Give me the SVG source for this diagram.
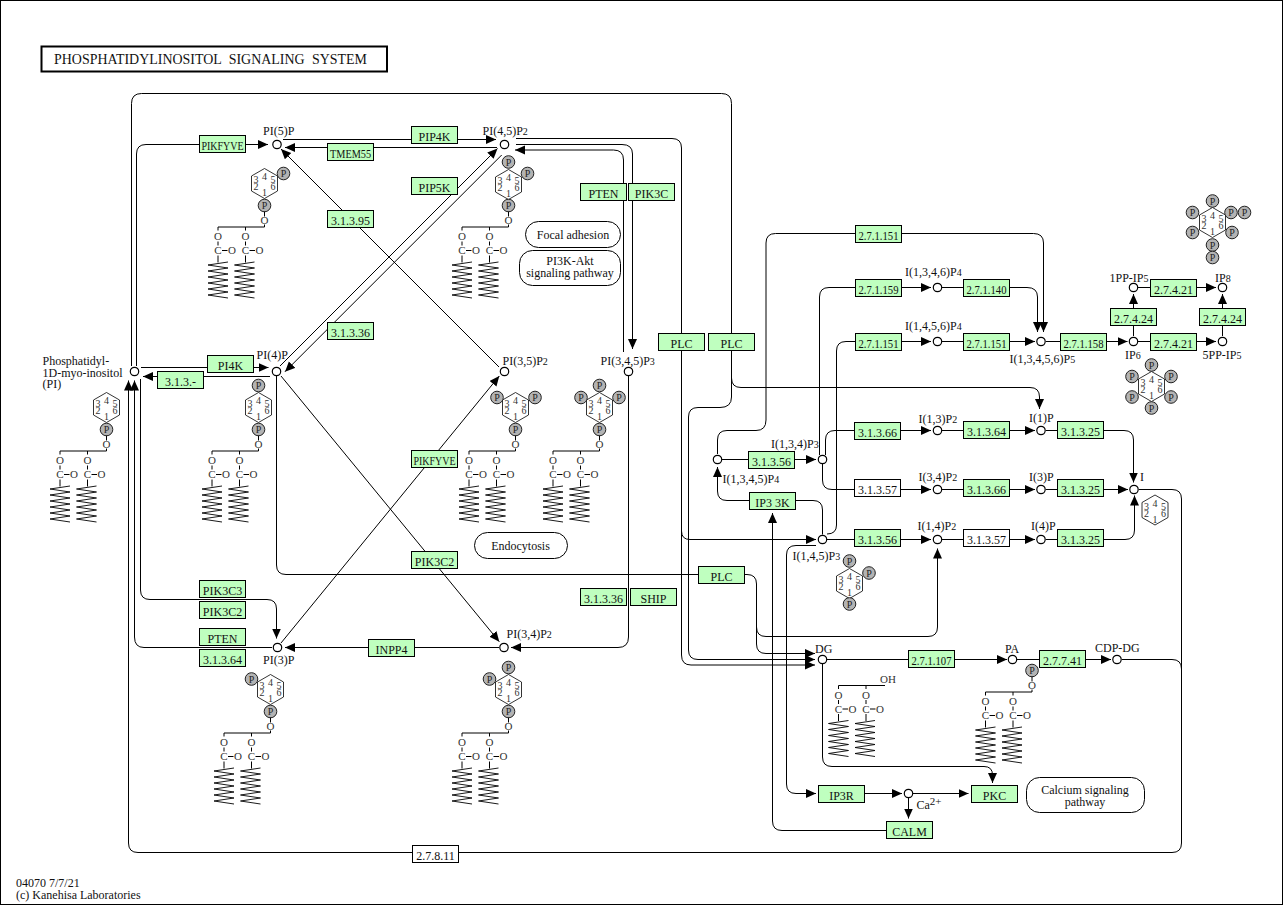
<svg xmlns="http://www.w3.org/2000/svg" width="1283" height="905" viewBox="0 0 1283 905">
<style>
text{font-family:"Liberation Serif","Times New Roman",serif;font-size:12px;fill:#111}
.e rect{fill:#bfffbf;stroke:#000;stroke-width:1}
.w rect{fill:#fff;stroke:#000;stroke-width:1}
.e text,.w text,.m text{text-anchor:middle}
.m rect{fill:#fff;stroke:#000;stroke-width:1}
.n circle{fill:#fff;stroke:#000;stroke-width:1.2}
#connectors path{fill:none;stroke:#000;stroke-width:1}
.h{marker-end:url(#a)}
.s{font-size:10px}
.d text{font-size:11px;text-anchor:middle;fill:#333}
.d path{fill:none;stroke:#000;stroke-width:1}
#zig{fill:none;stroke:#000;stroke-width:.9}
.hx polygon{fill:#fff;stroke:#000;stroke-width:.8}
.hx text{font-size:10px;text-anchor:middle;fill:#333}
.pp circle{fill:#b3b3b3;stroke:#222;stroke-width:1}
.pp text{font-size:10px;text-anchor:middle;fill:#222}
</style>
<defs>
<marker id="a" markerUnits="userSpaceOnUse" markerWidth="11" markerHeight="10" refX="10" refY="4.5" orient="auto"><path d="M0 0L10 4.5L0 9z" fill="#000"/></marker>
<polyline id="zig" points="10,0 -10,3 10,6 -10,9 10,12 -10,15 10,18 -10,21 10,24 -10,27 10,30 -10,33 10,36"/>
<g id="hex" class="hx"><polygon points="0,-15 13,-7.5 13,7.5 0,15 -13,7.5 -13,-7.5"/><text x="0" y="-3.5">4</text><text x="8.5" y="-0.5">5</text><text x="8.5" y="6.5">6</text><text x="0" y="12.5">1</text><text x="-8.5" y="6.5">2</text><text x="-8.5" y="-0.5">3</text></g>
<g id="P" class="pp"><circle r="6.3"/><text y="3.5">P</text></g>
<g id="tail" class="d"><path d="M0 6.5H-46.5V10M-19 6.5V10M-46.5 21V25M-19 21V25M-42.5 30H-37M-15 30H-9.5M-46.5 35V42M-19 35V42"/><text x="-46.5" y="19.5">O</text><text x="-19" y="19.5">O</text><text x="-46.5" y="33.5">C</text><text x="-19" y="33.5">C</text><text x="-32.5" y="33.5">O</text><text x="-5" y="33.5">O</text><use href="#zig" x="-46.5" y="41.5"/><use href="#zig" x="-20" y="41.5"/></g>
<g id="tailO" class="d"><use href="#tail"/><path d="M0 4V6.5M0 -4V-9"/><text y="3.5">O</text></g>
</defs>
<rect x="0.5" y="0.5" width="1282" height="904" fill="#fff" stroke="#000"/>
<rect x="41.5" y="46.5" width="345.5" height="25" fill="#fff" stroke="#000" stroke-width="2"/>
<text x="54" y="64" style="font-size:14px" textLength="313" lengthAdjust="spacingAndGlyphs" word-spacing="4">PHOSPHATIDYLINOSITOL SIGNALING SYSTEM</text>
<text x="16" y="887" style="font-size:12px">04070 7/7/21</text>
<text x="16" y="899" style="font-size:12px">(c) Kanehisa Laboratories</text>

<g id="connectors">
<path class="h" d="M131.5 366V103.5Q131.5 93.5 141.5 93.5H721.5Q731.5 93.5 731.5 103.5V378Q731.5 387.5 741 387.5H1030Q1039.5 387.5 1039.5 397V409"/>
<path class="h" d="M731.5 350V397Q731.5 407.5 720 407.5H698Q688.5 407.5 688.5 417V650Q688.5 659.5 698 659.5H815"/>
<path class="h" d="M516 138.5H672Q681.5 138.5 681.5 148V655Q681.5 665 691 665H815"/>
<path class="h" d="M681.5 531Q681.5 539.5 690 539.5H816"/>
<path class="h" d="M516 144.5H622Q632.5 144.5 632.5 154V349"/>
<path class="h" d="M623.5 352V160Q623.5 150 613.5 150H515"/>
<path class="h" d="M628.5 376V637Q628.5 647.5 618 647.5H511"/>
<path class="h" d="M499 647.5H285"/>
<path class="h" d="M272 647.5H144Q134.5 647.5 134.5 637V380.5"/>
<path class="h" d="M1139 489.5H1172Q1181.5 489.5 1181.5 499V843Q1181.5 852.5 1172 852.5H138Q128.5 852.5 128.5 843V380.5"/>
<path d="M1122 659.5H1172Q1181.5 659.5 1181.5 669"/>
<path class="h" d="M140.5 379V590Q140.5 599.5 150 599.5H267Q276.5 599.5 276.5 609V638.5"/>
<path class="h" d="M136.5 366V154Q136.5 144.5 146 144.5H268"/>
<path class="h" d="M141 367.5H268.5"/>
<path class="h" d="M270 376.5H143"/>
<path d="M276.5 376V565Q276.5 574.5 286 574.5H698"/>
<path class="h" d="M745 574.5H747Q756.5 574.5 756.5 584V644Q756.5 653.5 766 653.5H815"/>
<path class="h" d="M756.5 627Q756.5 636.5 766 636.5H928Q937.5 636.5 937.5 627V548.5"/>
<path class="h" d="M283 139.5H496"/>
<path class="h" d="M497 147.5H285"/>
<path class="h" d="M499 367L281 149"/>
<path class="h" d="M280 366L497.5 148.5"/>
<path class="h" d="M501.7 155L285 371.7"/>
<path class="h" d="M281 643L499.3 376"/>
<path class="h" d="M281 376L499.3 641.7"/>
<path class="h" d="M827 659.5H1007"/>
<path class="h" d="M1017 659.5H1111"/>
<path class="h" d="M822.5 664V757Q822.5 766.5 832 766.5H984Q992.5 766.5 992.5 775V783"/>
<path class="h" d="M864.5 793.5H902"/>
<path class="h" d="M913 793.5H968.5"/>
<path class="h" d="M908.5 798V818.5"/>
<path class="h" d="M886 830.5H782Q772.5 830.5 772.5 821V513"/>
<path class="h" d="M816 545.5H796Q786.5 545.5 786.5 555V784Q786.5 793.5 796 793.5H816"/>
<path class="h" d="M722 459.5H816"/>
<path class="h" d="M717.5 454V440Q717.5 430.5 727 430.5H756Q766 430.5 766 420V243Q766 233.5 775.5 233.5H1033.5Q1043.5 233.5 1043.5 243V332"/>
<path class="h" d="M749.5 500.5H727Q717.5 500.5 717.5 491V467"/>
<path d="M795.5 500.5H813Q822.5 500.5 822.5 510V534.5"/>
<path class="h" d="M825.5 455V440Q825.5 430.5 835 430.5H931"/>
<path class="h" d="M822.5 464V480Q822.5 489.5 832 489.5H931"/>
<path class="h" d="M819.5 455V297Q819.5 287.5 829 287.5H931"/>
<path class="h" d="M827 539.5H931"/>
<path class="h" d="M827 534Q836.5 534 836.5 525V351Q836.5 341.5 846 341.5H931"/>
<path class="h" d="M942 430.5H1035"/>
<path class="h" d="M942 489.5H1035"/>
<path class="h" d="M942 539.5H1035"/>
<path class="h" d="M1046 430.5H1124Q1133.5 430.5 1133.5 440V482.5"/>
<path class="h" d="M1046 489.5H1128"/>
<path class="h" d="M1046 539.5H1125Q1134.5 539.5 1134.5 530V495.5"/>
<path class="h" d="M942 287.5H1027Q1037.5 287.5 1037.5 297V332"/>
<path class="h" d="M942 341.5H1035"/>
<path class="h" d="M1046 341.5H1127.5"/>
<path class="h" d="M1133.5 336V294"/>
<path class="h" d="M1222.5 336V294"/>
<path class="h" d="M1138 287.5H1216"/>
<path class="h" d="M1138 341.5H1216"/>
</g>

<g id="n-PI" class="n"><circle cx="134.5" cy="371.5" r="4.2"/><text x="42.5" y="365">Phosphatidyl-</text><text x="42.5" y="376.5">1D-myo-inositol</text><text x="42.5" y="388">(PI)</text></g>
<g id="n-PI4P" class="n"><circle cx="276.5" cy="371.5" r="4.2"/><text x="256.5" y="359">PI(4)P</text></g>
<g id="n-PI5P" class="n"><circle cx="277" cy="144.5" r="4.2"/><text x="263" y="135">PI(5)P</text></g>
<g id="n-PI45P2" class="n"><circle cx="504.5" cy="144.5" r="4.2"/><text x="482.5" y="134.5">PI(4,5)P<tspan class="s">2</tspan></text></g>
<g id="n-PI35P2" class="n"><circle cx="504.5" cy="371.5" r="4.2"/><text x="502.5" y="365">PI(3,5)P<tspan class="s">2</tspan></text></g>
<g id="n-PI345P3" class="n"><circle cx="628.5" cy="371.5" r="4.2"/><text x="600.5" y="365">PI(3,4,5)P<tspan class="s">3</tspan></text></g>
<g id="n-PI3P" class="n"><circle cx="277.5" cy="647.5" r="4.2"/><text x="263" y="664">PI(3)P</text></g>
<g id="n-PI34P2" class="n"><circle cx="504" cy="647.5" r="4.2"/><text x="506.5" y="638">PI(3,4)P<tspan class="s">2</tspan></text></g>
<g id="n-I13452" class="n"><circle cx="717.5" cy="459.5" r="4.2"/><text x="722.5" y="482.5">I(1,3,4,5)P<tspan class="s">4</tspan></text></g>
<g id="n-I134" class="n"><circle cx="822.5" cy="459.5" r="4.2"/><text x="771" y="447.5">I(1,3,4)P<tspan class="s">3</tspan></text></g>
<g id="n-I145" class="n"><circle cx="822.5" cy="539.5" r="4.2"/><text x="792.5" y="560">I(1,4,5)P<tspan class="s">3</tspan></text></g>
<g id="n-I13" class="n"><circle cx="937.5" cy="430.5" r="4.2"/><text x="918.5" y="422.5">I(1,3)P<tspan class="s">2</tspan></text></g>
<g id="n-I34" class="n"><circle cx="937.5" cy="489.5" r="4.2"/><text x="918.5" y="481">I(3,4)P<tspan class="s">2</tspan></text></g>
<g id="n-I14" class="n"><circle cx="937.5" cy="539.5" r="4.2"/><text x="917.5" y="529.5">I(1,4)P<tspan class="s">2</tspan></text></g>
<g id="n-I1P" class="n"><circle cx="1041" cy="430.5" r="4.2"/><text x="1029" y="422">I(1)P</text></g>
<g id="n-I3P" class="n"><circle cx="1041" cy="489.5" r="4.2"/><text x="1029" y="481">I(3)P</text></g>
<g id="n-I4P" class="n"><circle cx="1041" cy="539.5" r="4.2"/><text x="1031" y="529.5">I(4)P</text></g>
<g id="n-I" class="n"><circle cx="1134" cy="489.5" r="4.2"/><text x="1140" y="481">I</text></g>
<g id="n-I1346" class="n"><circle cx="937.5" cy="287.5" r="4.2"/><text x="905" y="276">I(1,3,4,6)P<tspan class="s">4</tspan></text></g>
<g id="n-I1456" class="n"><circle cx="937.5" cy="341.5" r="4.2"/><text x="905" y="330">I(1,4,5,6)P<tspan class="s">4</tspan></text></g>
<g id="n-I13456" class="n"><circle cx="1041" cy="341.5" r="4.2"/><text x="1009.5" y="362.5">I(1,3,4,5,6)P<tspan class="s">5</tspan></text></g>
<g id="n-IP6" class="n"><circle cx="1133.5" cy="341.5" r="4.2"/><text x="1125" y="358.5">IP<tspan class="s">6</tspan></text></g>
<g id="n-5PP" class="n"><circle cx="1222.5" cy="341.5" r="4.2"/><text x="1202.5" y="358.5">5PP-IP<tspan class="s">5</tspan></text></g>
<g id="n-1PP" class="n"><circle cx="1133.5" cy="287.5" r="4.2"/><text x="1109.5" y="281.5">1PP-IP<tspan class="s">5</tspan></text></g>
<g id="n-IP8" class="n"><circle cx="1222.5" cy="287.5" r="4.2"/><text x="1215" y="281.5">IP<tspan class="s">8</tspan></text></g>
<g id="n-DG" class="n"><circle cx="822.5" cy="659.5" r="4.2"/><text x="815" y="652.5">DG</text></g>
<g id="n-PA" class="n"><circle cx="1012.5" cy="659.5" r="4.2"/><text x="1005" y="652.5">PA</text></g>
<g id="n-CDPDG" class="n"><circle cx="1117" cy="659.5" r="4.2"/><text x="1095" y="652">CDP-DG</text></g>
<g id="n-Ca" class="n"><circle cx="908.5" cy="793.5" r="4.2"/><text x="916.5" y="808.5">Ca<tspan dy="-4" style="font-size:11px">2+</tspan></text></g>

<g id="e-PIKFYVE1" class="e"><rect x="199.5" y="135.5" width="46" height="17"/><text x="222.5" y="150" textLength="42" lengthAdjust="spacingAndGlyphs">PIKFYVE</text></g>
<g id="e-TMEM55" class="e"><rect x="327.5" y="143.5" width="46" height="17"/><text x="350.5" y="158" textLength="41" lengthAdjust="spacingAndGlyphs">TMEM55</text></g>
<g id="e-31395" class="e"><rect x="327.5" y="210.5" width="46" height="17"/><text x="350.5" y="225">3.1.3.95</text></g>
<g id="e-PIP4K" class="e"><rect x="411.5" y="126.5" width="46" height="17"/><text x="434.5" y="141">PIP4K</text></g>
<g id="e-PIP5K" class="e"><rect x="411.5" y="177.5" width="46" height="17"/><text x="434.5" y="192">PIP5K</text></g>
<g id="e-PTEN1" class="e"><rect x="580.5" y="183.5" width="46" height="17"/><text x="603.5" y="198">PTEN</text></g>
<g id="e-PIK3C" class="e"><rect x="628.5" y="183.5" width="46" height="17"/><text x="651.5" y="198">PIK3C</text></g>
<g id="e-31336a" class="e"><rect x="327.5" y="322.5" width="46" height="17"/><text x="350.5" y="337">3.1.3.36</text></g>
<g id="e-PI4K" class="e"><rect x="207.5" y="355.5" width="46" height="17"/><text x="230.5" y="370">PI4K</text></g>
<g id="e-313x" class="e"><rect x="157.5" y="371.5" width="46" height="17"/><text x="180.5" y="386">3.1.3.-</text></g>
<g id="e-PIKFYVE2" class="e"><rect x="411.5" y="450.5" width="46" height="17"/><text x="434.5" y="465" textLength="42" lengthAdjust="spacingAndGlyphs">PIKFYVE</text></g>
<g id="e-PIK3C2a" class="e"><rect x="411.5" y="551.5" width="46" height="17"/><text x="434.5" y="566">PIK3C2</text></g>
<g id="e-PLC1" class="e"><rect x="658.5" y="333.5" width="46" height="17"/><text x="681.5" y="348">PLC</text></g>
<g id="e-PLC2" class="e"><rect x="708.5" y="333.5" width="46" height="17"/><text x="731.5" y="348">PLC</text></g>
<g id="e-PLC3" class="e"><rect x="698.5" y="566.5" width="46" height="17"/><text x="721.5" y="581">PLC</text></g>
<g id="e-31336b" class="e"><rect x="580.5" y="588.5" width="46" height="17"/><text x="603.5" y="603">3.1.3.36</text></g>
<g id="e-SHIP" class="e"><rect x="630.5" y="588.5" width="46" height="17"/><text x="653.5" y="603">SHIP</text></g>
<g id="e-PIK3C3" class="e"><rect x="199.5" y="580.5" width="46" height="17"/><text x="222.5" y="595">PIK3C3</text></g>
<g id="e-PIK3C2b" class="e"><rect x="199.5" y="601.5" width="46" height="17"/><text x="222.5" y="616">PIK3C2</text></g>
<g id="e-PTEN2" class="e"><rect x="199.5" y="628.5" width="46" height="17"/><text x="222.5" y="643">PTEN</text></g>
<g id="e-31364a" class="e"><rect x="199.5" y="649.5" width="46" height="17"/><text x="222.5" y="664">3.1.3.64</text></g>
<g id="e-INPP4" class="e"><rect x="368.5" y="639.5" width="46" height="17"/><text x="391.5" y="654">INPP4</text></g>
<g id="e-31356a" class="e"><rect x="748.5" y="451.5" width="46" height="17"/><text x="771.5" y="466">3.1.3.56</text></g>
<g id="e-IP33K" class="e"><rect x="749.5" y="492.5" width="46" height="17"/><text x="772.5" y="507">IP3 3K</text></g>
<g id="e-31366a" class="e"><rect x="854.5" y="422.5" width="46" height="17"/><text x="877.5" y="437">3.1.3.66</text></g>
<g id="w-31357a" class="w"><rect x="854.5" y="479.5" width="46" height="17"/><text x="877.5" y="494">3.1.3.57</text></g>
<g id="e-31356b" class="e"><rect x="854.5" y="529.5" width="46" height="17"/><text x="877.5" y="544">3.1.3.56</text></g>
<g id="e-31364b" class="e"><rect x="963.5" y="421.5" width="46" height="17"/><text x="986.5" y="436">3.1.3.64</text></g>
<g id="e-31366b" class="e"><rect x="963.5" y="479.5" width="46" height="17"/><text x="986.5" y="494">3.1.3.66</text></g>
<g id="w-31357b" class="w"><rect x="963.5" y="529.5" width="46" height="17"/><text x="986.5" y="544">3.1.3.57</text></g>
<g id="e-31325a" class="e"><rect x="1057.5" y="421.5" width="46" height="17"/><text x="1080.5" y="436">3.1.3.25</text></g>
<g id="e-31325b" class="e"><rect x="1057.5" y="479.5" width="46" height="17"/><text x="1080.5" y="494">3.1.3.25</text></g>
<g id="e-31325c" class="e"><rect x="1057.5" y="529.5" width="46" height="17"/><text x="1080.5" y="544">3.1.3.25</text></g>
<g id="e-271151a" class="e"><rect x="855.5" y="225.5" width="46" height="17"/><text x="878.5" y="240" textLength="40" lengthAdjust="spacingAndGlyphs">2.7.1.151</text></g>
<g id="e-271159" class="e"><rect x="855.5" y="279.5" width="46" height="17"/><text x="878.5" y="294" textLength="40" lengthAdjust="spacingAndGlyphs">2.7.1.159</text></g>
<g id="e-271140" class="e"><rect x="963.5" y="279.5" width="46" height="17"/><text x="986.5" y="294" textLength="40" lengthAdjust="spacingAndGlyphs">2.7.1.140</text></g>
<g id="e-271151b" class="e"><rect x="855.5" y="333.5" width="46" height="17"/><text x="878.5" y="348" textLength="40" lengthAdjust="spacingAndGlyphs">2.7.1.151</text></g>
<g id="e-271151c" class="e"><rect x="963.5" y="333.5" width="46" height="17"/><text x="986.5" y="348" textLength="40" lengthAdjust="spacingAndGlyphs">2.7.1.151</text></g>
<g id="e-271158" class="e"><rect x="1060.5" y="333.5" width="46" height="17"/><text x="1083.5" y="348" textLength="40" lengthAdjust="spacingAndGlyphs">2.7.1.158</text></g>
<g id="e-27421a" class="e"><rect x="1150.5" y="279.5" width="46" height="17"/><text x="1173.5" y="294">2.7.4.21</text></g>
<g id="e-27421b" class="e"><rect x="1150.5" y="333.5" width="46" height="17"/><text x="1173.5" y="348">2.7.4.21</text></g>
<g id="e-27424a" class="e"><rect x="1110.5" y="308.5" width="46" height="17"/><text x="1133.5" y="323">2.7.4.24</text></g>
<g id="e-27424b" class="e"><rect x="1199.5" y="308.5" width="46" height="17"/><text x="1222.5" y="323">2.7.4.24</text></g>
<g id="e-271107" class="e"><rect x="908.5" y="650.5" width="46" height="17"/><text x="931.5" y="665" textLength="40" lengthAdjust="spacingAndGlyphs">2.7.1.107</text></g>
<g id="e-27741" class="e"><rect x="1039.5" y="650.5" width="46" height="17"/><text x="1062.5" y="665">2.7.7.41</text></g>
<g id="e-IP3R" class="e"><rect x="818.5" y="785.5" width="46" height="17"/><text x="841.5" y="800">IP3R</text></g>
<g id="e-PKC" class="e"><rect x="971.5" y="785.5" width="46" height="17"/><text x="994.5" y="800">PKC</text></g>
<g id="e-CALM" class="e"><rect x="886.5" y="821.5" width="46" height="17"/><text x="909.5" y="836">CALM</text></g>
<g id="w-27811" class="w"><rect x="412.5" y="845.5" width="46" height="17"/><text x="435.5" y="860">2.7.8.11</text></g>

<g id="m-focal" class="m"><rect x="525.5" y="221.5" width="95" height="26" rx="13"/><text x="573" y="239">Focal adhesion</text></g>
<g id="m-pi3k" class="m"><rect x="519.5" y="250.5" width="101" height="35" rx="13"/><text x="570" y="265">PI3K-Akt</text><text x="570" y="277">signaling pathway</text></g>
<g id="m-endo" class="m"><rect x="474.5" y="532.5" width="93" height="26" rx="13"/><text x="520.5" y="550">Endocytosis</text></g>
<g id="m-calcium" class="m"><rect x="1026.5" y="777.5" width="118" height="35" rx="13"/><text x="1085" y="794">Calcium signaling</text><text x="1085" y="806">pathway</text></g>

<g id="lipids">
<use href="#hex" x="264.5" y="183.5"/><use href="#P" x="283.5" y="173.5"/><use href="#P" x="264.5" y="205.5"/><use href="#tailO" x="264.5" y="220.5"/>
<use href="#hex" x="508.5" y="184.5"/><use href="#P" x="508.5" y="162"/><use href="#P" x="527.5" y="173.5"/><use href="#P" x="508.5" y="205.5"/><use href="#tailO" x="508.5" y="220.5"/>
<use href="#hex" x="106.5" y="407.5"/><use href="#P" x="106.5" y="429.5"/><use href="#tailO" x="106.5" y="444.5"/>
<use href="#hex" x="258.5" y="407.5"/><use href="#P" x="258.5" y="385.5"/><use href="#P" x="258.5" y="429.5"/><use href="#tailO" x="258.5" y="444.5"/>
<use href="#hex" x="515.5" y="407.5"/><use href="#P" x="497" y="397.5"/><use href="#P" x="535" y="397.5"/><use href="#P" x="515.5" y="429.5"/><use href="#tailO" x="515.5" y="444.5"/>
<use href="#hex" x="599.5" y="407.5"/><use href="#P" x="599.5" y="385.5"/><use href="#P" x="581" y="397.5"/><use href="#P" x="619" y="397.5"/><use href="#P" x="599.5" y="429.5"/><use href="#tailO" x="599.5" y="444.5"/>
<use href="#hex" x="270.5" y="689.5"/><use href="#P" x="251.5" y="679"/><use href="#P" x="270.5" y="711.5"/><use href="#tailO" x="270.5" y="726.5"/>
<use href="#hex" x="508.5" y="689.5"/><use href="#P" x="508.5" y="667.5"/><use href="#P" x="489.5" y="679"/><use href="#P" x="508.5" y="711.5"/><use href="#tailO" x="508.5" y="726.5"/>
<use href="#hex" x="849.5" y="583.5"/><use href="#P" x="849.5" y="561"/><use href="#P" x="869" y="573"/><use href="#P" x="849.5" y="604"/>
<use href="#hex" x="1151.5" y="386.5"/><use href="#P" x="1151.5" y="365"/><use href="#P" x="1132" y="376.5"/><use href="#P" x="1171" y="376.5"/><use href="#P" x="1132" y="397"/><use href="#P" x="1171" y="397"/><use href="#P" x="1151.5" y="408"/>
<use href="#hex" x="1212.5" y="222.5"/><use href="#P" x="1212.5" y="201"/><use href="#P" x="1192.5" y="212.5"/><use href="#P" x="1231" y="212.5"/><use href="#P" x="1244.5" y="212.5"/><use href="#P" x="1192.5" y="232.5"/><use href="#P" x="1232" y="232.5"/><use href="#P" x="1212.5" y="245"/><use href="#P" x="1212.5" y="257.5"/>
<use href="#hex" x="1155" y="510"/>
<use href="#tail" x="885" y="679"/><g class="d"><text x="888" y="683">OH</text></g>
<use href="#P" x="1032" y="670.5"/><use href="#tailO" x="1032" y="685.5"/>
</g>
</svg>
